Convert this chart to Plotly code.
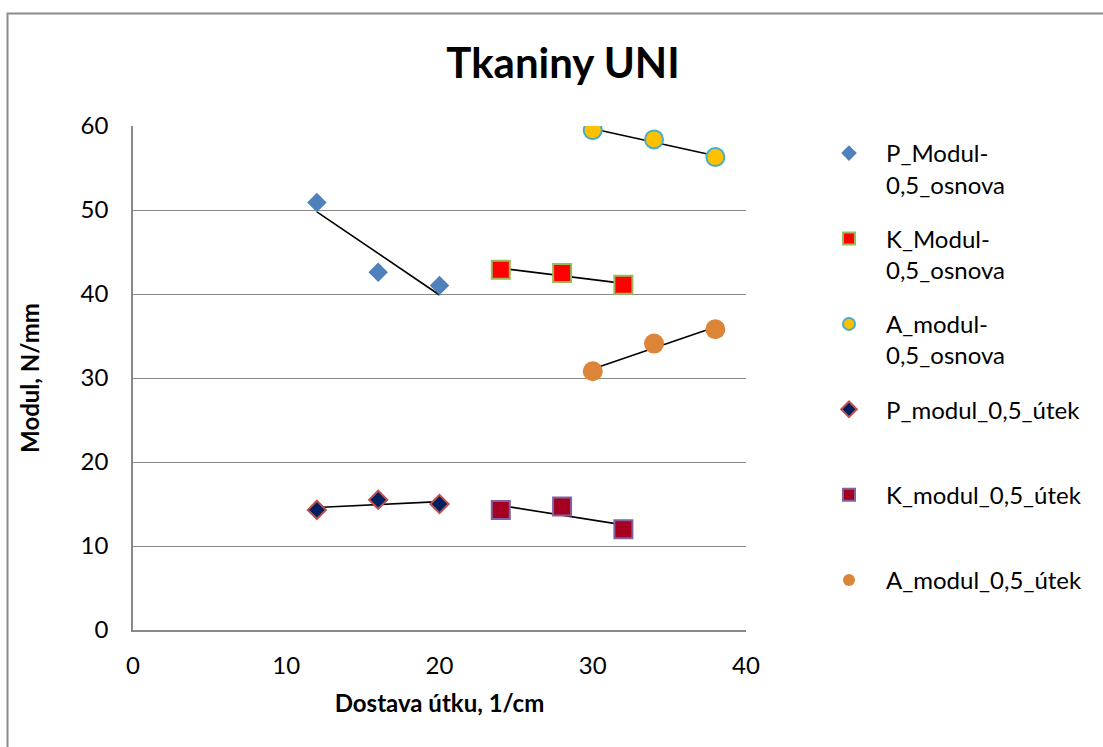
import numpy as np
import plotly.graph_objects as go

# Dostava útku (1/cm) for each fabric group
x_P = [12, 16, 20]
x_K = [24, 28, 32]
x_A = [30, 34, 38]

# Modul, N/mm
P_osnova = [50.9, 42.6, 41.0]
K_osnova = [42.9, 42.5, 41.1]
A_osnova = [59.5, 58.4, 56.3]
P_utek = [14.3, 15.5, 15.0]
K_utek = [14.3, 14.7, 12.0]
A_utek = [30.8, 34.1, 35.8]

names = [
    "P_Modul-<br>0,5_osnova",
    "K_Modul-<br>0,5_osnova",
    "A_modul-<br>0,5_osnova",
    "P_modul_0,5_útek<br> ",
    "K_modul_0,5_útek<br> ",
    "A_modul_0,5_útek<br> ",
]

series = [
    (x_P, P_osnova, dict(symbol="diamond", size=15, color="#4F81BD", line=dict(width=0))),
    (x_K, K_osnova, dict(symbol="square", size=18, color="#FF0000", line=dict(width=2, color="#9BBB59"))),
    (x_A, A_osnova, dict(symbol="circle", size=18, color="#FFC000", line=dict(width=2, color="#4BACC6"))),
    (x_P, P_utek, dict(symbol="diamond", size=14, color="#002060", line=dict(width=2, color="#C0504D"))),
    (x_K, K_utek, dict(symbol="square", size=18, color="#A50021", line=dict(width=2, color="#8064A2"))),
    (x_A, A_utek, dict(symbol="circle", size=20, color="#DC8539", line=dict(width=0))),
]

FONT = "Lato, 'Open Sans', sans-serif"

fig = go.Figure()

# linear trendlines (least squares) under the markers
for xs, ys, _ in series:
    k, q = np.polyfit(xs, ys, 1)
    xe = np.array([min(xs), max(xs)])
    fig.add_trace(go.Scatter(x=xe, y=k * xe + q, mode="lines",
                             line=dict(color="black", width=1.6),
                             showlegend=False, hoverinfo="skip"))

for i, ((xs, ys, mk), nm) in enumerate(zip(series, names)):
    fig.add_trace(go.Scatter(x=xs, y=ys, mode="markers", name=nm, marker=mk,
                             legendgroup=f"g{i}"))

W, H = 1103, 747
L, R, T, B = 133, 357, 126, 117
pw, ph = W - L - R, H - T - B

fig.update_layout(
    width=W, height=H,
    margin=dict(l=L, r=R, t=T, b=B),
    paper_bgcolor="white", plot_bgcolor="white",
    font=dict(family=FONT, size=24, color="black"),
    title=dict(text="<b>Tkaniny UNI</b>", x=(563 - L) / pw, xref="paper",
               xanchor="center", y=1 - 63 / H, yanchor="middle",
               font=dict(size=42, family=FONT)),
    xaxis=dict(range=[0, 40], dtick=10, showgrid=False, zeroline=False,
               showline=True, linecolor="#898989", linewidth=1.5,
               ticks="", tickfont=dict(size=24), ticklabelstandoff=13,
               title=dict(text="<b>Dostava útku, 1/cm</b>", font=dict(size=24), standoff=18)),
    yaxis=dict(range=[0, 60], dtick=10, showgrid=True, gridcolor="#898989", gridwidth=1.2,
               zeroline=False, showline=True, linecolor="#898989", linewidth=1.5,
               ticks="", tickfont=dict(size=24), ticklabelstandoff=18,
               title=dict(text="<b>Modul, N/mm</b>", font=dict(size=24), standoff=34)),
    legend=dict(x=(812 - L) / pw, xanchor="left", y=(630 - 131) / ph, yanchor="top",
                valign="top", tracegroupgap=20, font=dict(size=24),
                itemwidth=64, bgcolor="rgba(0,0,0,0)", itemsizing="constant"),
    showlegend=True,
)

# outer chart frame (left and top edges visible)
fig.add_shape(type="rect", xref="paper", yref="paper",
              x0=(7.5 - L) / pw, x1=2, y0=-1, y1=(630 - 13.5) / ph,
              line=dict(color="#8C8C8C", width=2), layer="below")

fig.write_html("out.html")
